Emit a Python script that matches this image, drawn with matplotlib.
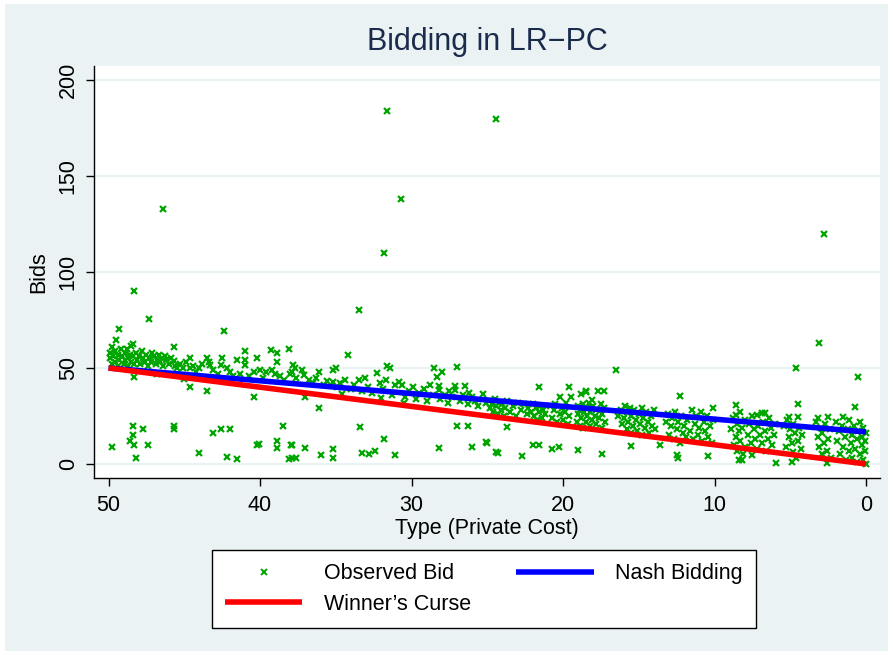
import matplotlib
matplotlib.use("Agg")
import matplotlib.pyplot as plt
from matplotlib.patches import Rectangle
from matplotlib.lines import Line2D
import numpy as np

plt.rcParams['font.family'] = ['Liberation Sans', 'DejaVu Sans']

# observed bids, (type, bid), grouped by region
obs_outliers = [(31.6, 183.9), (24.4, 179.8), (46.4, 132.8), (30.7, 137.9),
                (31.8, 109.9), (2.8, 120.0), (48.3, 89.9), (33.5, 80.0),
                (3.1, 62.8), (4.6, 49.8), (0.5, 45.5), (16.5, 49.0)]

obs_left = [(49.9, 58), (49.9, 55), (49.8, 61), (49.8, 52), (49.7, 56), (49.6, 59),
            (49.6, 53), (49.5, 64.6), (49.4, 57), (49.4, 51), (49.3, 70.1), (49.3, 54),
            (49.2, 60), (49.1, 56), (49.0, 52), (48.9, 58), (48.9, 54), (48.8, 60),
            (48.7, 55), (48.7, 51), (48.6, 57), (48.5, 61.6), (48.5, 53), (48.4, 62.5),
            (48.4, 56), (48.3, 52), (48.2, 58), (48.1, 54), (48.0, 56), (47.9, 52),
            (47.8, 59), (47.7, 55), (47.6, 53), (47.5, 57), (47.4, 51), (47.3, 75.5),
            (47.3, 55), (47.2, 53), (47.1, 58), (47.0, 56), (46.9, 52), (46.8, 54),
            (46.7, 57), (46.6, 53), (46.5, 55), (46.4, 51), (46.3, 56), (46.2, 54),
            (46.0, 52), (45.9, 55), (45.7, 61.1), (45.7, 53.8), (45.6, 51.2), (45.5, 49.8),
            (45.3, 52), (45.1, 50), (44.9, 53), (44.6, 55), (44.6, 49.8), (44.4, 51),
            (44.2, 48), (44.0, 50), (43.8, 52), (43.5, 55), (43.4, 53), (43.3, 51.5),
            (43.1, 49), (42.8, 47), (42.6, 51.5), (42.5, 55), (42.4, 69.3), (42.2, 50),
            (42.0, 48), (41.8, 46), (41.5, 54.2), (41.3, 47), (41.0, 59.0), (41.0, 54.2),
            (41.0, 51.5), (40.7, 46), (40.4, 48), (40.2, 55), (40.0, 49), (39.8, 45),
            (39.6, 48), (39.3, 59.5), (39.2, 49), (39.0, 47), (38.9, 57.6), (38.9, 53.3),
            (38.7, 46), (38.4, 44), (38.1, 60), (38.0, 47), (48.3, 45.2), (44.6, 39.9),
            (43.5, 38.2), (40.4, 35.0), (46.8, 47), (45.0, 44.5)]

obs_left_low = [(48.4, 19.8), (47.7, 18.1), (48.4, 15.1), (48.6, 12.2), (48.3, 9.9),
                (47.4, 9.9), (48.2, 2.9), (49.8, 9.0), (45.7, 19.8), (45.7, 18.1),
                (44.0, 5.9), (43.1, 16.0), (42.6, 18.1), (42.0, 18.1), (42.2, 3.5),
                (41.5, 2.4), (40.2, 9.9), (40.1, 10.5), (38.9, 12.2), (38.9, 8.3),
                (38.5, 19.8), (37.96, 9.9), (38.1, 2.4)]

obs_mid = [(37.8, 51.6), (37.7, 49.8), (37.6, 45), (37.2, 49), (37.9, 48.1), (37.1, 46.4),
           (36.8, 44), (36.5, 42), (36.3, 45), (36.1, 48.1), (35.8, 41), (35.6, 43),
           (35.2, 49), (35.0, 49.8), (35.2, 42.8), (34.9, 40), (34.7, 42), (34.4, 44),
           (34.2, 56.8), (34.0, 39), (33.8, 41), (33.5, 43.7), (33.3, 38), (33.1, 44.6),
           (32.9, 40), (32.6, 37), (32.3, 47.2), (32.1, 42), (31.9, 39), (31.6, 51),
           (31.4, 49.8), (31.7, 43.7), (31.3, 36), (31.1, 41), (30.8, 42.8), (30.6, 41.1),
           (30.4, 35), (30.2, 38), (29.9, 40), (29.7, 34), (29.5, 37), (29.2, 39),
           (29.0, 33), (28.8, 41), (28.6, 36), (28.5, 49.8), (28.3, 45.5), (28.0, 48.1),
           (28.2, 40.4), (28.2, 38.7), (28.1, 34), (27.8, 36), (27.6, 32), (27.5, 38),
           (27.3, 35), (27.1, 40.4), (27.1, 38.7), (27.0, 50.7), (26.8, 33), (26.6, 36),
           (26.5, 40.4), (26.3, 31), (26.2, 37), (26.0, 35.1), (25.8, 33), (25.6, 30),
           (25.3, 36.3), (25.1, 32), (37.0, 35.1), (36.1, 29.0), (30.5, 32), (32.0, 34.5),
           (34.6, 36.5)]

obs_mid_low = [(37.9, 9.9), (37.6, 2.9), (37.9, 2.9), (37.0, 8.5), (36.0, 4.7), (35.2, 7.8),
               (35.2, 3.3), (33.4, 19.2), (33.3, 5.9), (32.8, 5.0), (32.4, 6.9), (31.8, 12.9),
               (31.1, 4.7), (28.2, 8.1), (27.0, 19.8), (26.3, 19.8), (26.0, 9.0), (25.0, 10.7),
               (25.1, 11.2), (24.4, 6.3)]

obs_right_mid = [(24.9, 33), (24.8, 29), (24.7, 31), (24.6, 27), (24.5, 34), (24.4, 30),
                 (24.3, 26), (24.2, 32), (24.1, 28), (24.0, 31), (23.9, 25), (23.8, 29),
                 (23.7, 33), (23.5, 27), (23.3, 30), (23.1, 25), (23.0, 32), (22.8, 28),
                 (22.6, 31), (22.4, 26), (22.3, 29), (22.1, 27), (22.0, 31), (21.9, 25),
                 (21.8, 29), (21.7, 23), (21.6, 40), (21.6, 27), (21.5, 30), (21.4, 24),
                 (21.3, 28), (21.2, 26), (21.1, 30), (20.7, 24), (20.6, 28), (20.5, 31),
                 (20.4, 22), (20.2, 35.1), (20.2, 26), (20.1, 29), (20.0, 23), (19.9, 27),
                 (19.8, 32), (19.7, 21), (19.6, 40), (19.6, 25), (19.5, 35.1), (19.1, 22),
                 (19.0, 26), (19.0, 30), (18.9, 20), (18.9, 28), (18.8, 36.3), (18.8, 24),
                 (18.7, 31), (18.7, 19), (18.6, 27), (18.5, 37.7), (18.5, 38.2), (18.5, 22),
                 (18.4, 29), (18.4, 25), (18.3, 32), (18.2, 20), (18.2, 27), (18.1, 33.3),
                 (18.1, 23), (18.0, 30), (17.9, 25), (17.8, 21), (17.8, 28), (17.7, 38.2),
                 (17.6, 24), (17.5, 31), (17.4, 19), (17.4, 26), (17.3, 38.2), (17.3, 29),
                 (17.2, 22), (16.4, 25), (16.2, 28), (16.1, 21), (16.0, 24), (15.9, 30),
                 (15.8, 18), (15.8, 27), (15.7, 22), (15.6, 29), (15.5, 16), (15.5, 25),
                 (15.4, 20), (15.3, 28), (15.2, 23), (15.1, 17), (15.0, 26), (14.9, 21),
                 (14.8, 29), (14.8, 15), (14.7, 24), (14.6, 19), (14.5, 27), (14.4, 22),
                 (14.3, 16), (14.2, 25), (14.1, 20), (14.0, 28), (13.9, 18), (13.2, 22),
                 (13.1, 26), (13.0, 15), (12.9, 20), (12.8, 24), (12.7, 13), (12.6, 27),
                 (12.5, 18), (12.5, 4.7), (12.4, 3.0), (12.4, 22), (12.3, 35.4), (12.3, 11),
                 (12.2, 25), (12.1, 16), (12.0, 20), (11.9, 14)]

obs_right_mid_low = [(24.3, 5.5), (23.7, 19.2), (22.7, 4.2), (22.0, 9.9), (21.6, 9.9),
                     (20.7, 7.8), (20.3, 8.7), (19.0, 7.4), (17.4, 5.2), (15.5, 9.5),
                     (13.6, 9.9)]

obs_right = [(11.8, 23), (11.6, 17), (11.5, 28), (11.4, 13), (11.3, 21), (11.2, 25),
             (11.1, 15), (11.0, 19), (10.9, 27), (10.8, 12), (10.7, 22), (10.6, 17),
             (10.5, 25), (10.4, 4.2), (10.4, 14), (10.3, 20), (10.2, 11), (10.1, 29.3),
             (10.1, 23), (8.9, 18), (8.8, 24), (8.7, 10), (8.6, 30.7), (8.6, 25.5),
             (8.6, 14), (8.5, 21), (8.5, 7), (8.4, 17), (8.4, 2.1), (8.3, 12), (8.3, 27),
             (8.2, 2.1), (8.2, 19), (8.1, 5), (8.0, 23), (8.0, 9), (7.8, 15), (7.7, 21),
             (7.6, 11), (7.5, 4.7), (7.5, 25), (7.4, 18), (7.3, 13), (7.2, 25.5), (7.2, 8),
             (7.1, 20), (7.0, 15), (6.9, 26.4), (6.9, 11), (6.8, 22), (6.7, 26.4), (6.7, 17),
             (6.6, 7), (6.5, 13), (6.4, 24), (6.3, 19), (6.2, 10), (6.1, 15), (6.0, 21),
             (5.97, 0.7), (5.4, 20), (5.3, 9), (5.2, 23), (5.1, 24.7), (5.1, 14), (5.0, 18),
             (4.9, 0.9), (4.9, 11), (4.8, 21), (4.8, 6), (4.7, 16), (4.6, 3), (4.5, 31.3),
             (4.5, 24.7), (4.5, 12), (4.4, 19), (4.3, 8), (4.2, 15), (3.3, 22), (3.2, 23.8),
             (3.2, 14), (3.1, 9), (3.0, 19), (2.9, 5), (2.9, 16), (2.8, 11), (2.7, 21),
             (2.6, 0.7), (2.6, 7), (2.5, 24.7), (2.5, 13), (2.4, 18), (2.3, 3), (2.0, 22),
             (1.9, 12), (1.8, 17), (1.7, 5), (1.6, 20), (1.5, 24.7), (1.5, 9), (1.4, 14),
             (1.3, 2), (1.2, 18), (1.1, 7), (1.1, 23), (1.0, 11), (0.9, 15), (0.9, 3),
             (0.8, 20), (0.7, 29.9), (0.7, 8), (0.6, 13), (0.6, 1), (0.5, 17), (0.4, 5),
             (0.4, 22), (0.3, 10), (0.3, 14), (0.2, 2), (0.2, 19), (0.1, 7), (0.1, 12),
             (0.0, 0), (0.0, 16)]

# theoretical bid lines
line_type = [50, 0]
nash_bid = [50, 16.7]
curse_bid = [50, 0]

x_ticks = [50, 40, 30, 20, 10, 0]
y_ticks = [0, 50, 100, 150, 200]

bg = '#eaf2f3'
green = '#00a600'

obs = np.array(obs_outliers + obs_left + obs_left_low + obs_mid + obs_mid_low
               + obs_right_mid + obs_right_mid_low + obs_right)

fig = plt.figure(figsize=(8.93, 6.55), dpi=100, facecolor='white')
fig.patches.append(Rectangle((5 / 893, 4 / 655), 883 / 893, 647 / 655,
                             transform=fig.transFigure, facecolor=bg,
                             edgecolor='none', zorder=-10))

ax = fig.add_axes([94 / 893, 1 - 478 / 655, 786 / 893, 412 / 655])
ax.set_facecolor('white')

sc, = ax.plot(obs[:, 0], obs[:, 1], linestyle='none', marker='x', color=green,
              markersize=5, markeredgewidth=1.6, zorder=2)
blue, = ax.plot(line_type, nash_bid, color='#0000ff', lw=4, zorder=3,
                solid_capstyle='butt')
red, = ax.plot(line_type, curse_bid, color='#ff0000', lw=4, zorder=4,
               solid_capstyle='butt')

ax.set_xlim(50.96, -0.92)
ax.set_ylim(-7.3, 207.3)
ax.set_xticks(x_ticks)
ax.set_yticks(y_ticks)
ax.yaxis.grid(True, color=bg, lw=1.6)
ax.set_axisbelow(True)
for s in ['top', 'right']:
    ax.spines[s].set_visible(False)
for s in ['left', 'bottom']:
    ax.spines[s].set_linewidth(1.0)
    ax.spines[s].set_color('black')
ax.tick_params(axis='both', length=6, width=1, labelsize=15.5, pad=6)
plt.setp(ax.get_yticklabels(), rotation=90, va='center')
ax.tick_params(axis='y', pad=5)

ax.set_xlabel('Type (Private Cost)', fontsize=15.5, labelpad=2)
ax.set_ylabel('Bids', fontsize=15.5, labelpad=6)

fig.text(487 / 893, 1 - 42 / 655, 'Bidding in LR\u2212PC', ha='center', va='center',
         fontsize=22, color='#1a2b4c')

leg_sc = Line2D([], [], linestyle='none', marker='x', color=green,
                markersize=4.2, markeredgewidth=1.4)
leg = fig.legend([leg_sc, red, blue], ['Observed Bid', 'Winner\u2019s Curse', 'Nash Bidding'],
                 ncol=2, loc='center', bbox_to_anchor=(484 / 893, 1 - 589 / 655),
                 fontsize=15.5, frameon=True, fancybox=False, edgecolor='black',
                 facecolor='white', framealpha=1, handlelength=3.6, handletextpad=1.0,
                 columnspacing=2.1, labelspacing=0.45, borderpad=0.6)
leg.get_frame().set_linewidth(1.0)

fig.savefig('out.png', dpi=100, facecolor='white')
